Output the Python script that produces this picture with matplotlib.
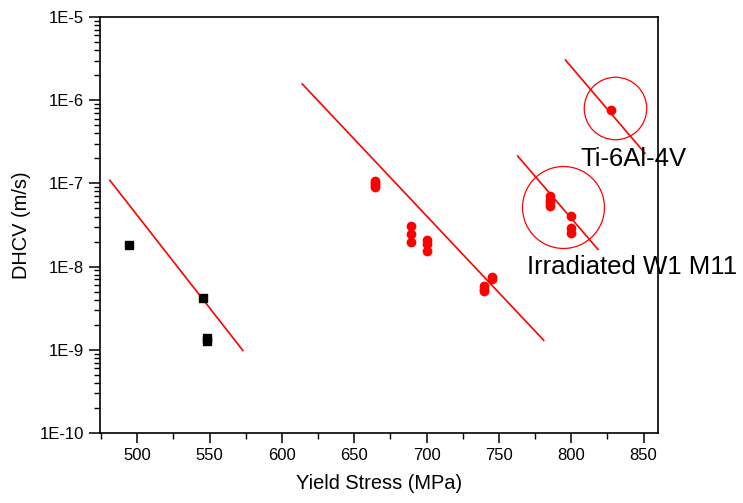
import numpy as np
import matplotlib
matplotlib.use('Agg')
import matplotlib.pyplot as plt
from matplotlib.ticker import FixedLocator, FuncFormatter, LogLocator, MultipleLocator

plt.rcParams['font.family'] = ['Liberation Sans', 'DejaVu Sans']

# Unirradiated (black squares)
black_x = [494, 545.5, 548, 548]
black_y = [1.83e-8, 4.25e-9, 1.28e-9, 1.37e-9]

# Red circles
red_x = [664, 664, 664, 664,
         689, 689, 689,
         700, 700, 700,
         740, 740, 740,
         745, 745,
         785.5, 785.5, 785.5, 785.5,
         800, 800, 800,
         827.5]
red_y = [1.06e-7, 1.0e-7, 9.5e-8, 9.0e-8,
         3.1e-8, 2.45e-8, 1.95e-8,
         2.1e-8, 1.85e-8, 1.55e-8,
         5.8e-9, 5.45e-9, 5.15e-9,
         7.6e-9, 7.0e-9,
         7.0e-8, 6.4e-8, 5.9e-8, 5.4e-8,
         4.05e-8, 2.95e-8, 2.5e-8,
         7.6e-7]

# Trend lines (start, end)
trend_lines = [
    ([481, 573], [1.09e-7, 9.8e-10]),
    ([614, 781], [1.57e-6, 1.3e-9]),
    ([763, 818.5], [2.13e-7, 1.61e-8]),
    ([796, 851], [3.04e-6, 2.3e-7]),
]

# Highlight circles (centre x, centre y, diameter in pt)
highlight_x = [830.4, 794.2]
highlight_y = [8.0e-7, 5.25e-8]
highlight_size = [45, 59]

labels = ['Ti-6Al-4V', 'Irradiated W1 M11']
label_x = [806.2, 769.3]
label_y = [1.63e-7, 8.15e-9]

fig = plt.figure(figsize=(7.43, 5.03), dpi=100)
ax = fig.add_axes([0.1346, 0.1392, 0.7510, 0.8270])

for lx, ly in trend_lines:
    ax.plot(lx, ly, color='#ff0000', lw=1.2)

ax.plot(black_x, black_y, 's', color='black', ms=6, mec='black')
ax.plot(red_x, red_y, 'o', color='#ff0000', ms=6, mec='#ff0000')

for hx, hy, hs in zip(highlight_x, highlight_y, highlight_size):
    ax.plot([hx], [hy], 'o', ms=hs, mfc='none', mec='#ff0000', mew=0.9)

for t, tx, ty in zip(labels, label_x, label_y):
    ax.text(tx, ty, t, fontsize=18.5, va='baseline', ha='left', color='black')

ax.set_yscale('log')
ax.set_xlim(474.2, 860)
ax.set_ylim(1e-10, 1e-5)

ax.xaxis.set_major_locator(MultipleLocator(50))
ax.xaxis.set_minor_locator(MultipleLocator(25))
ax.yaxis.set_major_locator(FixedLocator([1e-10, 1e-9, 1e-8, 1e-7, 1e-6, 1e-5]))
ax.yaxis.set_minor_locator(LogLocator(base=10, subs=np.arange(2, 10)))
ax.yaxis.set_major_formatter(FuncFormatter(lambda v, p: '1E%d' % int(round(np.log10(v)))))
ax.yaxis.set_minor_formatter(FuncFormatter(lambda v, p: ''))

ax.tick_params(which='major', direction='out', length=7, width=1.1, labelsize=12)
ax.tick_params(which='minor', direction='out', length=4, width=1.0)
ax.tick_params(axis='y', which='major', length=8)
ax.tick_params(axis='y', which='minor', length=4.5)
for s in ax.spines.values():
    s.set_linewidth(1.2)

ax.set_xlabel('Yield Stress (MPa)', fontsize=14.4, labelpad=8)
ax.set_ylabel('DHCV (m/s)', fontsize=14.4, labelpad=6)

fig.savefig('out.png', dpi=100)
